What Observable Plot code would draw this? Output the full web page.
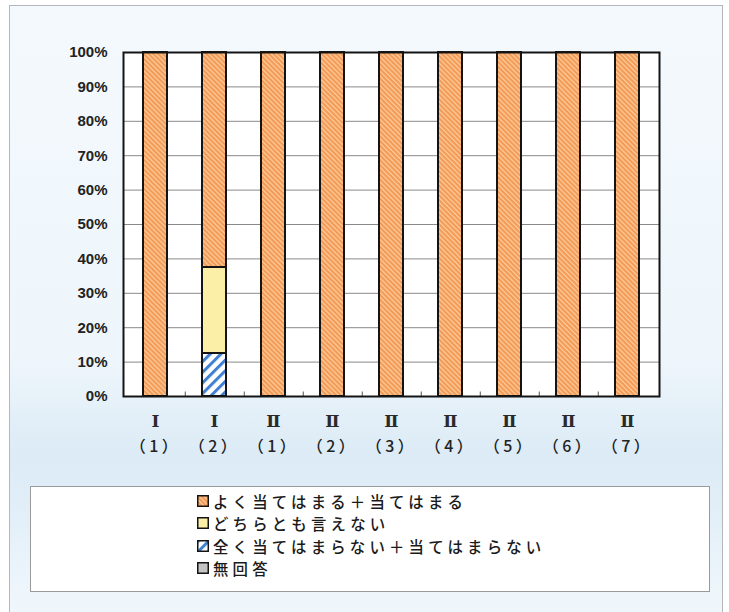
<!DOCTYPE html>
<html>
<head>
<meta charset="utf-8">
<script src="https://cdn.jsdelivr.net/npm/d3@7"></script>
<script src="https://cdn.jsdelivr.net/npm/@observablehq/plot@0.6"></script>
<style>
  html, body { margin: 0; padding: 0; background: #ffffff; }
  body { width: 729px; height: 612px; position: relative; overflow: hidden; }
  #frame {
    position: absolute; left: 9px; top: 5px; width: 712px; height: 640px;
    border: 1px solid #b4b8bc;
    background: linear-gradient(to bottom, #f4f9fd 0%, #eef6fb 55%, #dcebf6 70%, #e1eef8 78%, #eef6fb 92%, #f3f8fc 100%);
  }
  #chart { position: absolute; left: 0; top: 0; }
  #legend {
    position: absolute; left: 30px; top: 486px; width: 680px; height: 106px;
    box-sizing: border-box; border: 1px solid #9a9a9a; background: #ffffff;
    font-family: "Noto Sans CJK JP", sans-serif; font-size: 15.4px; font-weight: 500; color: #1a1a1a;
    letter-spacing: 4.2px;
  }
  .item { position: absolute; left: 166px; height: 22px; line-height: 22px; white-space: nowrap; display: flex; align-items: center; }
  .item svg { margin-right: 4px; }
</style>
</head>
<body>
<svg width="0" height="0" style="position:absolute">
  <defs>
    <pattern id="pat-orange" patternUnits="userSpaceOnUse" width="3.4" height="3.4" patternTransform="rotate(-45)">
      <rect width="3.4" height="3.4" fill="#f39a56"></rect>
      <rect width="1.3" height="3.4" fill="#fccb99"></rect>
    </pattern>
    <pattern id="pat-blue" patternUnits="userSpaceOnUse" width="7.5" height="7.5" patternTransform="rotate(45)">
      <rect width="7.5" height="7.5" fill="#ffffff"></rect>
      <rect width="3" height="7.5" fill="#3f80d2"></rect>
    </pattern>
  </defs>
</svg>
<div id="frame"></div>
<div id="chart"></div>
<div id="legend"></div>
<script>
// ---- data ----
const groups = ["Ⅰ","Ⅰ","Ⅱ","Ⅱ","Ⅱ","Ⅱ","Ⅱ","Ⅱ","Ⅱ"];
const items  = ["（1）","（2）","（1）","（2）","（3）","（4）","（5）","（6）","（7）"];
const categories = groups.map((g, i) => g + items[i]);

const seriesNames = [
  "よく当てはまる＋当てはまる",
  "どちらとも言えない",
  "全く当てはまらない＋当てはまらない",
  "無回答"
];
const positive = [100, 62.5, 100, 100, 100, 100, 100, 100, 100];
const neutral  = [0,   25,   0,   0,   0,   0,   0,   0,   0];
const negative = [0,   12.5, 0,   0,   0,   0,   0,   0,   0];
const noAnswer = [0,   0,    0,   0,   0,   0,   0,   0,   0];

const seriesFills = ["url(#pat-orange)", "#fbeea6", "url(#pat-blue)", "#c4c4c4"];
const yTicks = d3.range(0, 101, 10);

// stacking order bottom -> top
const stackOrder = [
  [seriesNames[2], negative],
  [seriesNames[1], neutral],
  [seriesNames[0], positive],
  [seriesNames[3], noAnswer]
];
const rows = [];
stackOrder.forEach(([name, vals]) => {
  categories.forEach((c, i) => { if (vals[i] > 0) rows.push({cat: c, series: name, value: vals[i]}); });
});

const W = 729, H = 470, mL = 123, mR = 70, mT = 52, mB = 74;
const step = (W - mL - mR) / categories.length;
const groupOf = Object.fromEntries(categories.map((c, i) => [c, groups[i]]));
const itemOf = Object.fromEntries(categories.map((c, i) => [c, items[i]]));

const chart = Plot.plot({
  width: W, height: H,
  marginLeft: mL, marginRight: mR, marginTop: mT, marginBottom: mB,
  style: { background: "transparent", overflow: "visible" },
  x: { domain: categories, paddingInner: 0.6, paddingOuter: 0.3, axis: null, label: null },
  y: { domain: [0, 100], axis: null, label: null },
  color: { domain: seriesNames, range: seriesFills },
  marks: [
    Plot.frame({ fill: "#ffffff" }),
    Plot.gridY(yTicks, { stroke: "#8a8a8a", strokeOpacity: 1, strokeWidth: 1 }),
    Plot.ruleX(categories.slice(0, -1), { x: d => d, dx: step / 2, y1: 0, y2: 1.3, stroke: "#555", strokeWidth: 1 }),
    Plot.barY(rows, { x: "cat", y: "value", fill: "series", stroke: "#141414", strokeWidth: 2 }),
    Plot.frame({ stroke: "#141414", strokeWidth: 2 }),
    Plot.axisY(yTicks, {
      label: null, tickSize: 0, tickPadding: 16, tickFormat: d => d + "%",
      fontSize: 15, fontWeight: "bold", fontFamily: "Liberation Sans, Arial, sans-serif", fill: "#222"
    }),
    Plot.text(categories, {
      x: d => d, text: d => groupOf[d], frameAnchor: "bottom", dy: 30,
      fontSize: 17, fontFamily: "DejaVu Serif, Liberation Serif, serif", fontWeight: "bold", fill: "#2a2a2a"
    }),
    Plot.text(categories, {
      x: d => d, text: d => itemOf[d], frameAnchor: "bottom", dy: 55, dx: 0,
      fontSize: 16, fontWeight: 500, fontFamily: "'Noto Sans CJK JP', sans-serif", fill: "#222"
    })
  ]
});
d3.select(chart).selectAll("text")
  .filter(function () { return items.includes(this.textContent); })
  .attr("letter-spacing", "3.5px")
  .style("letter-spacing", "3.5px");
document.getElementById("chart").appendChild(chart);

// ---- legend ----
const legend = document.getElementById("legend");
seriesNames.forEach((name, i) => {
  const div = document.createElement("div");
  div.className = "item";
  div.style.top = (3 + i * 22.3) + "px";
  div.innerHTML = `<svg width="12" height="12"><rect x="0.75" y="0.75" width="10.5" height="10.5" fill="${seriesFills[i]}" stroke="#141414" stroke-width="1.5"></rect></svg><span>${name}</span>`;
  legend.appendChild(div);
});
</script>
</body>
</html>
